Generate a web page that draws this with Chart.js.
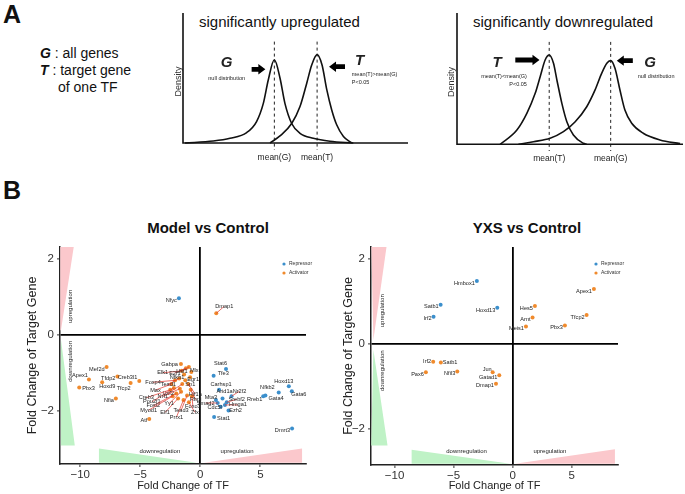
<!DOCTYPE html>
<html>
<head>
<meta charset="utf-8">
<script src="https://cdn.jsdelivr.net/npm/chart.js@4.4.0/dist/chart.umd.min.js"></script>
<style>
  body { margin: 0; width: 685px; height: 494px; position: relative; background: #fff; overflow: hidden;
         font-family: "Liberation Sans", Arial, sans-serif; color: #111; }
  .t { position: absolute; white-space: nowrap; }
  canvas { position: absolute; }
</style>
</head>
<body>
<div class="t" style="left:3px;top:0px;font:bold 25px 'Liberation Sans';">A</div>
<div class="t" style="left:3px;top:176px;font:bold 25px 'Liberation Sans';">B</div>

<div class="t" style="left:40px;top:45px;font-size:14px;line-height:17px;">
  <b><i>G</i></b> : all genes<br><b><i>T</i></b> : target gene<br><span style="padding-left:18px">of one TF</span>
</div>

<div class="t" style="left:199px;top:13px;font-size:15px;line-height:18px;">significantly upregulated</div>
<div class="t" style="left:473px;top:13px;font-size:15px;line-height:18px;">significantly downregulated</div>

<div class="t" style="left:108px;top:219px;width:200px;text-align:center;font:bold 15px/18px 'Liberation Sans';">Model vs Control</div>
<div class="t" style="left:427px;top:219px;width:200px;text-align:center;font:bold 15px/18px 'Liberation Sans';">YXS vs Control</div>

<canvas id="upChart" width="260" height="175" style="left:165px;top:0px"></canvas>
<canvas id="downChart" width="247" height="175" style="left:438px;top:0px"></canvas>
<canvas id="modelChart" width="320" height="294" style="left:20px;top:200px"></canvas>
<canvas id="yxsChart" width="349" height="294" style="left:336px;top:200px"></canvas>

<script>
// ---- panel A: density sketches (x in arbitrary units 0-100, density 0-1) ----
const upNullX = [0.9, 13.5, 20.9, 28.3, 32.7, 35.7, 37.9, 40.6, 43.1, 45.3, 48.3, 52.0, 57.9, 65.3, 75.7];
const upNullY = [0, 0.015, 0.036, 0.08, 0.165, 0.305, 0.485, 0.64, 0.5, 0.305, 0.15, 0.074, 0.036, 0.013, 0];
const upTargetX = [38.7, 43.1, 48.3, 52.0, 55.0, 57.2, 59.6, 61.8, 63.9, 66.1, 68.3, 71.3, 75.0];
const upTargetY = [0, 0.054, 0.15, 0.28, 0.46, 0.6, 0.68, 0.6, 0.41, 0.254, 0.14, 0.05, 0];
const upMeans = [40.6, 59.6];
const upMeanLabels = ['mean(G)', 'mean(T)'];

const downTargetX = [19.1, 26.5, 30.9, 34.6, 36.8, 39.0, 40.8, 42.7, 44.2, 46.4, 48.6, 51.5, 55.9, 57.4];
const downTargetY = [0, 0.109, 0.236, 0.388, 0.515, 0.642, 0.68, 0.617, 0.49, 0.312, 0.172, 0.071, 0.008, 0];
const downNullX = [27.2, 33.8, 41.2, 47.1, 52.3, 57.4, 61.1, 64.0, 66.3, 68.0, 69.9, 72.1, 74.3, 77.3, 82.4, 89.8, 98.7];
const downNullY = [0, 0.02, 0.046, 0.096, 0.172, 0.286, 0.414, 0.54, 0.617, 0.637, 0.579, 0.414, 0.261, 0.16, 0.084, 0.033, 0.005];
const downMeans = [40.8, 68.0];
const downMeanLabels = ['mean(T)', 'mean(G)'];

// ---- panel B: fold changes ----
const modelGenes = ['Nfyc', 'Dmap1', 'Mef2d', 'Apex1', 'Tfdp2', 'Creb3l1', 'Hoxd9', 'Tfcp2', 'Pbx3', 'Nfia', 'Atf', 'Gabpa',
  'Elk1', 'E2f1', 'Usf1', 'Mlx', 'Nfkb1', 'Egr1', 'Foxp4', 'Tead1', 'Sp1', 'Max', 'Usf2', 'Hif1a', 'Creb3', 'Pou2f1',
  'Nrf1', 'Rbpj', 'Fosl2', 'Myod1', 'Elf1', 'Prrx1', 'Tead3', 'Foxo1', 'Zfx', 'Yy1',
  'Stat6', 'Tfe3', 'Carhsp1', 'Mta3', 'Arid1a', 'Nr2f2', 'Smad2', 'Srebf2', 'Hmga1', 'Cdc5l', 'Ezh2', 'Stat1',
  'Rreb1', 'Gata4', 'Nfkb2', 'Hoxd13', 'Gata6', 'Dmrt3'];
const modelTF = [-1.78, 1.33, -7.8, -9.27, -6.9, -5.08, -8.17, -5.8, -10.08, -7.03, -4.25, -1.61,
  -1.55, -1.2, -0.95, -0.75, -1.35, -0.85, -2.1, -1.75, -1.25, -2.4, -1.5, -1.0, -2.5, -2.2,
  -1.7, -0.8, -2.0, -2.3, -1.85, -1.4, -1.1, -0.7, -0.95, -1.6,
  2.14, 1.11, 1.56, 1.3, 1.85, 2.6, 1.45, 2.2, 2.05, 1.7, 2.35, 1.15,
  5.24, 5.42, 6.53, 7.37, 7.62, 7.64];
const modelTarget = [0.97, 0.57, -0.85, -1.18, -1.1, -1.22, -1.25, -1.27, -1.39, -1.68, -2.22, -0.77,
  -0.95, -0.88, -0.85, -0.98, -1.05, -1.12, -1.2, -1.15, -1.2, -1.3, -1.3, -1.3, -1.45, -1.4,
  -1.42, -1.45, -1.55, -1.62, -1.68, -1.72, -1.6, -1.62, -1.78, -1.5,
  -0.9, -1.08, -1.45, -1.72, -1.68, -1.62, -1.8, -1.78, -1.85, -1.9, -2.0, -2.17,
  -1.62, -1.6, -1.52, -1.36, -1.49, -2.47];
const modelRole = ['R', 'A', 'A', 'A', 'A', 'A', 'A', 'A', 'A', 'A', 'A', 'A',
  'A', 'A', 'A', 'A', 'A', 'A', 'A', 'A', 'A', 'A', 'A', 'A', 'A', 'A',
  'A', 'A', 'A', 'A', 'A', 'A', 'A', 'A', 'A', 'A',
  'R', 'R', 'R', 'R', 'R', 'R', 'R', 'R', 'R', 'R', 'R', 'R',
  'R', 'R', 'R', 'R', 'R', 'R'];

const yxsGenes = ['Hmbox1', 'Satb1', 'Irf2', 'Hoxd13', 'Hes5', 'Arnt', 'Meis1', 'Pbx3', 'Tfcp2', 'Apex1',
  'Irf2', 'Satb1', 'Pax6', 'Nfil3', 'Jun', 'Gatad1', 'Dmap1'];
const yxsTF = [-3.03, -6.1, -6.7, -1.3, 1.89, 1.69, 1.13, 4.43, 6.27, 6.89,
  -6.73, -6.08, -7.35, -4.69, -1.69, -1.13, -1.41];
const yxsTarget = [1.48, 0.92, 0.64, 0.85, 0.89, 0.62, 0.41, 0.43, 0.68, 1.29,
  -0.42, -0.44, -0.67, -0.65, -0.67, -0.74, -0.94];
const yxsRole = ['R', 'R', 'R', 'R', 'A', 'A', 'A', 'A', 'A', 'A',
  'A', 'A', 'A', 'A', 'A', 'A', 'A'];

const tickX = [-10, -5, 0, 5];
const tickY = [-2, 0, 2];

// shaded guide wedges (data units)
const modelUpZones = [
  [[-11.66, 2.5], [-10.45, 2.5], [-11.6, 0.12]],
  [[0.3, -3.38], [8.47, -3.38], [8.47, -3.0]]
];
const modelDownZones = [
  [[-11.6, -0.13], [-10.45, -2.92], [-11.66, -2.92]],
  [[-8.44, -3.0], [-0.3, -3.38], [-8.44, -3.38]]
];
const yxsUpZones = [
  [[-11.98, 2.45], [-10.6, 2.45], [-11.8, 0.09]],
  [[0.2, -2.82], [8.67, -2.82], [8.67, -2.48]]
];
const yxsDownZones = [
  [[-11.8, -0.14], [-10.6, -2.39], [-11.98, -2.39]],
  [[-8.56, -2.49], [-0.2, -2.82], [-8.56, -2.82]]
];

Chart.defaults.font.family = "'Liberation Sans', Arial, sans-serif";
Chart.defaults.color = '#222';
Chart.defaults.animation = false;

const BLUE = '#3b8fcc';
const ORANGE = '#f08a2c';
const PINK = '#fbc8cc';
const GREEN = '#bff2c6';
const FONT = "'Liberation Sans', Arial, sans-serif";

function drawArrow(ctx, x0, y0, x1, y1) {
  const ang = Math.atan2(y1 - y0, x1 - x0);
  const len = Math.hypot(x1 - x0, y1 - y0);
  ctx.save();
  ctx.translate(x0, y0);
  ctx.rotate(ang);
  ctx.fillStyle = '#000';
  ctx.beginPath();
  ctx.moveTo(0, -2.4);
  ctx.lineTo(len - 7, -2.4);
  ctx.lineTo(len - 7, -5.2);
  ctx.lineTo(len, 0);
  ctx.lineTo(len - 7, 5.2);
  ctx.lineTo(len - 7, 2.4);
  ctx.lineTo(0, 2.4);
  ctx.closePath();
  ctx.fill();
  ctx.restore();
}

// annotations, point labels and the small legend
function makeNotes(cfg) {
  return {
    id: 'notes',
    afterDatasetsDraw(chart) {
      const {ctx, chartArea, scales: {x, y}} = chart;
      ctx.save();
      (cfg.arrows || []).forEach(a => drawArrow(ctx,
        x.getPixelForValue(a.from[0]), y.getPixelForValue(a.from[1]),
        x.getPixelForValue(a.to[0]), y.getPixelForValue(a.to[1])));
      (cfg.texts || []).forEach(t => {
        ctx.save();
        ctx.translate(x.getPixelForValue(t.x), y.getPixelForValue(t.y));
        if (t.rot) ctx.rotate(t.rot * Math.PI / 180);
        ctx.font = t.font;
        ctx.fillStyle = t.color || '#222';
        ctx.textAlign = t.align || 'center';
        ctx.textBaseline = 'middle';
        ctx.fillText(t.text, 0, 0);
        ctx.restore();
      });
      if (cfg.nudge) {
        ctx.font = '5.6px ' + FONT;
        ctx.textBaseline = 'middle';
        chart.data.datasets.forEach((ds, i) => {
          if (!ds.names) return;
          chart.getDatasetMeta(i).data.forEach((pt, j) => {
            const name = ds.names[j];
            const n = cfg.nudge[name + ':' + ds.role] || cfg.nudge[name] || [-2, 2, 'right'];
            const tx = pt.x + n[0], ty = pt.y + n[1];
            if (Math.hypot(n[0], n[1]) > 8) {
              ctx.strokeStyle = '#e0302a';
              ctx.lineWidth = 0.7;
              ctx.beginPath();
              ctx.moveTo(pt.x, pt.y);
              ctx.lineTo(tx, ty);
              ctx.stroke();
            }
            ctx.textAlign = n[2] || 'right';
            ctx.fillStyle = '#222';
            ctx.fillText(name, tx, ty);
          });
        });
      }
      if (cfg.legend) {
        const lx = chartArea.right - 22, ly = chartArea.top + 17;
        [['Repressor', BLUE], ['Activator', ORANGE]].forEach((item, k) => {
          ctx.fillStyle = item[1];
          ctx.beginPath();
          ctx.arc(lx, ly + k * 9, 1.6, 0, Math.PI * 2);
          ctx.fill();
          ctx.fillStyle = '#333';
          ctx.font = '5px ' + FONT;
          ctx.textAlign = 'left';
          ctx.textBaseline = 'middle';
          ctx.fillText(item[0], lx + 5, ly + k * 9);
        });
      }
      ctx.restore();
    }
  };
}

function xy(xs, ys) {
  return xs.map((v, i) => ({x: v, y: ys[i]}));
}

function densityChart(id, curves, means, meanLabels, geo, notes) {
  const datasets = [{
    data: [{x: 0, y: 1}, {x: 0, y: 0}, {x: 100, y: 0}],
    showLine: true, borderColor: '#111', borderWidth: 1.6, pointRadius: 0, clip: false
  }];
  curves.forEach(c => datasets.push({
    data: xy(c[0], c[1]), showLine: true, borderColor: '#111', borderWidth: 1.6,
    pointRadius: 0, cubicInterpolationMode: 'monotone'
  }));
  means.forEach(m => datasets.push({
    data: [{x: m, y: 0.78}, {x: m, y: geo.yMin}], showLine: true, borderColor: '#222',
    borderWidth: 1, borderDash: [3, 3], pointRadius: 0
  }));
  return new Chart(document.getElementById(id), {
    type: 'scatter',
    data: {datasets},
    options: {
      responsive: false,
      layout: {padding: {top: 13, right: geo.right, left: 0, bottom: 0}},
      plugins: {legend: {display: false}, tooltip: {enabled: false}},
      scales: {
        x: {
          type: 'linear', min: 0, max: 100,
          grid: {display: false, drawTicks: false}, border: {display: false},
          afterBuildTicks: s => { s.ticks = means.map(v => ({value: v})); },
          ticks: {callback: (v, i) => meanLabels[i], font: {size: 8.5}, color: '#222', padding: 2.5,
                  maxRotation: 0, autoSkip: false, includeBounds: false},
          afterFit: s => { s.height = geo.xh; }
        },
        y: {
          min: geo.yMin, max: 1,
          grid: {display: false, drawTicks: false}, border: {display: false},
          ticks: {display: false},
          title: {display: true, text: 'Density', font: {size: 9}, color: '#333', padding: {top: 8, bottom: 0}},
          afterFit: s => { s.width = geo.yw; }
        }
      }
    },
    plugins: [makeNotes(notes)]
  });
}

function fmt(v) {
  return v < 0 ? '\u2212' + Math.abs(v) : String(v);
}

function foldChart(id, genes, tf, target, role, upZones, downZones, geo, notes) {
  const datasets = [];
  [['R', BLUE], ['A', ORANGE]].forEach(r => {
    const idx = genes.map((g, i) => i).filter(i => role[i] === r[0]);
    datasets.push({
      data: idx.map(i => ({x: tf[i], y: target[i]})),
      names: idx.map(i => genes[i]),
      role: r[0],
      pointRadius: 2, pointBackgroundColor: r[1], pointBorderWidth: 0, order: 0
    });
  });
  [[upZones, PINK], [downZones, GREEN]].forEach(z => z[0].forEach(tri => datasets.push({
    data: tri.concat([tri[0]]).map(p => ({x: p[0], y: p[1]})),
    showLine: true, fill: 'shape', backgroundColor: z[1], borderWidth: 0, borderColor: z[1],
    pointRadius: 0, order: 5
  })));
  const axisColor = '#222';
  return new Chart(document.getElementById(id), {
    type: 'scatter',
    data: {datasets},
    options: {
      responsive: false,
      layout: {padding: {top: 47, right: geo.right, left: 0, bottom: 0}},
      plugins: {legend: {display: false}, tooltip: {enabled: false}},
      scales: {
        x: {
          type: 'linear', min: geo.xMin, max: geo.xMax,
          afterBuildTicks: s => { s.ticks = tickX.map(v => ({value: v})); },
          ticks: {callback: v => fmt(v), font: {size: 11.5}, color: '#333', padding: 1, maxRotation: 0},
          grid: {color: c => (c.tick && c.tick.value === 0) ? '#000' : 'rgba(0,0,0,0)',
                 lineWidth: 1.8, tickColor: '#333', tickLength: 3, tickWidth: 1},
          border: {display: true, color: axisColor, width: 1.5},
          title: {display: true, text: 'Fold Change of TF', font: {size: 11}, color: '#222', padding: {top: 0, bottom: 1}},
          afterFit: s => { s.height = geo.xh; }
        },
        y: {
          type: 'linear', min: geo.yMin, max: geo.yMax,
          afterBuildTicks: s => { s.ticks = tickY.map(v => ({value: v})); },
          ticks: {callback: v => fmt(v), font: {size: 11.5}, color: '#333', padding: 3},
          grid: {color: c => (c.tick && c.tick.value === 0) ? '#000' : 'rgba(0,0,0,0)',
                 lineWidth: 1.8, tickColor: '#333', tickLength: 3, tickWidth: 1},
          border: {display: true, color: axisColor, width: 1.5},
          title: {display: true, text: 'Fold Change of Target Gene', font: {size: 12.5}, color: '#222', padding: {top: geo.tpad, bottom: 0}},
          afterFit: s => { s.width = geo.yw; }
        }
      }
    },
    plugins: [makeNotes(notes)]
  });
}

const bigItalic = 'italic bold 15px ' + FONT;
const tiny = '5.5px ' + FONT;

densityChart('upChart', [[upNullX, upNullY], [upTargetX, upTargetY]], upMeans, upMeanLabels,
  {yMin: -0.054, right: 17, xh: 25, yw: 18},
  {
    arrows: [{from: [30.5, 0.567], to: [36.6, 0.567]}, {from: [72, 0.587], to: [64.9, 0.587]}],
    texts: [
      {text: 'G', x: 19.4, y: 0.62, font: bigItalic},
      {text: 'null distribution', x: 19.4, y: 0.5, font: tiny},
      {text: 'T', x: 76.4, y: 0.63, font: bigItalic, align: 'left'},
      {text: 'mean(T)>mean(G)', x: 75, y: 0.528, font: tiny, align: 'left'},
      {text: 'P<0.05', x: 75, y: 0.464, font: tiny, align: 'left'}
    ]
  });

densityChart('downChart', [[downTargetX, downTargetY], [downNullX, downNullY]], downMeans, downMeanLabels,
  {yMin: -0.051, right: 2, xh: 24, yw: 19},
  {
    arrows: [{from: [25.8, 0.642], to: [36.5, 0.642]}, {from: [77.8, 0.637], to: [70.7, 0.637]}],
    texts: [
      {text: 'T', x: 17.7, y: 0.62, font: bigItalic},
      {text: 'mean(T)<mean(G)', x: 30.9, y: 0.52, font: tiny, align: 'right'},
      {text: 'P<0.05', x: 30.9, y: 0.459, font: tiny, align: 'right'},
      {text: 'G', x: 85.4, y: 0.62, font: bigItalic},
      {text: 'null distribution', x: 88.1, y: 0.52, font: tiny}
    ]
  });

const zoneFont = '6px ' + FONT;

foldChart('modelChart', modelGenes, modelTF, modelTarget, modelRole, modelUpZones, modelDownZones,
  {xMin: -11.68, xMax: 8.8, yMin: -3.41, yMax: 2.32, right: 34, xh: 30, yw: 40, tpad: 5},
  {
    legend: true,
    texts: [
      {text: 'upregulation', x: -10.86, y: 0.75, rot: -90, font: zoneFont},
      {text: 'downregulation', x: -10.86, y: -0.7, rot: -90, font: zoneFont},
      {text: 'downregulation', x: -3.36, y: -3.07, font: zoneFont},
      {text: 'upregulation', x: 3.06, y: -3.07, font: zoneFont}
    ],
    nudge: {
      Dmap1: [8, -7, 'center'], Apex1: [-1, -4, 'right'], Creb3l1: [-2, -4, 'right'],
      Hoxd9: [-3, 4, 'left'], Tfcp2: [0, 5, 'right'], Pbx3: [3, 1, 'left'], Gabpa: [-3, 0, 'right'],
      Stat6: [1, -5, 'right'], Tfe3: [4, -2, 'left'], Carhsp1: [2, -5, 'center'],
      Mta3: [-5, -3, 'center'], Arid1a: [2, -7, 'center'], Nr2f2: [8, -5, 'center'],
      Smad2: [-12, 0, 'center'], Srebf2: [10, -3, 'center'], Hmga1: [13, 0, 'center'],
      Cdc5l: [-6, 1, 'center'], Ezh2: [7, 0, 'center'], Stat1: [3, 1, 'left'],
      Rreb1: [-1, 3, 'right'], Gata4: [3, 3, 'left'], Nfkb2: [-4, -5, 'right'],
      Hoxd13: [-5, -5, 'center'], Gata6: [7, 3, 'center'],
      Elk1: [-19, 2, 'center'], E2f1: [-11, 5, 'center'], Usf1: [-7, 4, 'center'], Mlx: [3, -2, 'center'],
      Nfkb1: [-7, 3, 'center'], Egr1: [3, 2, 'center'], Foxp4: [-22, 2, 'center'], Tead1: [-11, 6, 'center'],
      Sp1: [5, 4, 'center'], Max: [-16, 6, 'center'], Usf2: [-14, 9, 'center'], Hif1a: [7, 10, 'center'],
      Creb3: [-24, 8, 'center'], Pou2f1: [-22, 14, 'center'], Nrf1: [-17, 8, 'center'], Rbpj: [5, 10, 'center'],
      Fosl2: [-23, 12, 'center'], Myod1: [-24, 14, 'center'], Elf1: [-13, 14, 'center'], Prrx1: [-7, 17, 'center'],
      Tead3: [-6, 15, 'center'], Foxo1: [1, 10, 'center'], Zfx: [6, 10, 'center'], Yy1: [-12, 12, 'center']
    }
  });

foldChart('yxsChart', yxsGenes, yxsTF, yxsTarget, yxsRole, yxsUpZones, yxsDownZones,
  {xMin: -12.0, xMax: 8.93, yMin: -2.85, yMax: 2.28, right: 67, xh: 29, yw: 35, tpad: 5},
  {
    legend: true,
    texts: [
      {text: 'upregulation', x: -11.0, y: 0.78, rot: -90, font: zoneFont},
      {text: 'downregulation', x: -11.0, y: -0.63, rot: -90, font: zoneFont},
      {text: 'downregulation', x: -3.9, y: -2.53, font: zoneFont},
      {text: 'upregulation', x: 3.16, y: -2.53, font: zoneFont}
    ],
    nudge: {
      'Satb1:A': [2, 0, 'left'], 'Irf2:A': [-2, 0, 'right'], Jun: [-1, -3, 'right'], Hoxd13: [-2, 3, 'right']
    }
  });
</script>
</body>
</html>
